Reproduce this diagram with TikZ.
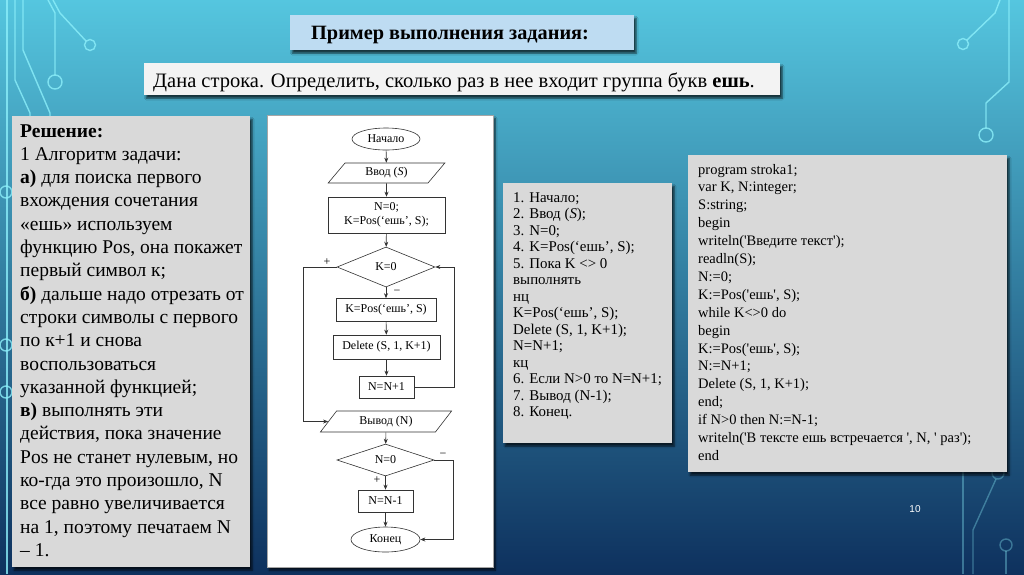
\documentclass[tikz,border=0pt]{standalone}
\usepackage{fontspec}
\setmainfont{Liberation Serif}
\newfontfamily\numfont{Liberation Sans}
\usetikzlibrary{shapes.geometric,arrows.meta,shadows.blur}
\definecolor{bgtop}{HTML}{55C6DF}
\definecolor{bgmid}{HTML}{2A8CBC}
\definecolor{bgbot}{HTML}{0E315E}
\definecolor{circ}{HTML}{8CEFFA}
\definecolor{titlefill}{HTML}{BEDCF2}
\definecolor{taskfill}{HTML}{F3F3F3}
\definecolor{panel}{HTML}{D9D9D9}
\definecolor{fcline}{HTML}{333333}
\newcommand\qq{\textquotesingle}
\tikzset{
  circuit/.style={draw=circ, line width=1.4pt, opacity=0.8},
  circuitlow/.style={draw=circ, line width=1.4pt, opacity=0.35},
  panelbox/.style={fill=panel, draw=none, blur shadow={shadow xshift=2pt, shadow yshift=-3pt, shadow opacity=70, shadow blur steps=6}},
  fcbase/.style={draw=fcline, line width=0.6pt, inner sep=1pt, font=\fontsize{12}{13.5}\selectfont, align=center},
  term/.style={fcbase, ellipse},
  io/.style={fcbase, trapezium, trapezium left angle=55, trapezium right angle=125, trapezium stretches=true},
  proc/.style={fcbase, rectangle},
  cond/.style={fcbase, diamond, inner sep=0pt},
  arr/.style={draw=fcline, line width=0.6pt, -{Stealth[length=5pt,width=4pt]}},
  lab/.style={font=\fontsize{12}{13}\selectfont, inner sep=0pt},
  soltext/.style={anchor=base west, inner sep=0pt, font=\fontsize{19.5}{23}\selectfont},
  algtext/.style={anchor=base west, inner sep=0pt, font=\fontsize{14.9}{16}\selectfont},
  codetext/.style={anchor=base west, inner sep=0pt, font=\fontsize{14.5}{16}\selectfont}
}
\begin{document}
\begin{tikzpicture}[x=1pt,y=-1pt]
\useasboundingbox (0,0) rectangle (1024,574);
% background
\shade[top color=bgtop, middle color=bgmid, bottom color=bgbot] (0,0) rectangle (1024,574);
% circuit decoration, left
\draw[circuit] (7,0) -- (7,574);
\draw[circuit] (15,0) -- (15,80) -- (30,113) -- (30,130);
\draw[circuit] (23,0) -- (23,50) -- (50,113) -- (50,130);
\draw[circuit] (48,0) -- (55,13) -- (55,75);
\draw[circuit] (55,82) circle[radius=7];
\draw[circuit] (53,0) -- (60,13) -- (86,41);
\draw[circuit] (90,45) circle[radius=5.5];
\draw[circuit] (6,192) circle[radius=6];
\draw[circuit] (6,345) circle[radius=6];
\draw[circuit] (6,392) circle[radius=6];
% circuit decoration, right
\draw[circuit] (1000,0) -- (995,13) -- (967,40);
\draw[circuit] (963,44) circle[radius=5.5];
\draw[circuit] (1009,0) -- (1009,82) -- (986,103) -- (986,128);
\draw[circuit] (986,135) circle[radius=7];
\draw[circuitlow] (963,460) -- (963,574);
\draw[circuitlow] (998,473) circle[radius=6];
\draw[circuitlow] (996,479) -- (973,530) -- (973,574);
\draw[circuitlow] (1006,545) circle[radius=6];
\draw[circuitlow] (1006,551) -- (1006,574);

% title and task
\node[panelbox, fill=titlefill, minimum width=344, minimum height=35, anchor=north west, inner sep=0pt] (title) at (290,15) {};
\node[anchor=base west, inner sep=0pt, font=\fontsize{20.3}{24}\selectfont\bfseries] (titletext) at (311,39) {Пример выполнения задания:};
\node[panelbox, fill=taskfill, minimum width=636, minimum height=32, anchor=north west, inner sep=0pt] (task) at (144,63) {};
\node[anchor=base west, inner sep=0pt, font=\fontsize{20.5}{24}\selectfont] (tasktext) at (153,87) {Дана строка. Определить, сколько раз в нее входит группа букв \textbf{ешь}.};

% solution box
\node[panelbox, minimum width=238, minimum height=451, anchor=north west, inner sep=0pt] (sol) at (12,116) {};
\foreach \t [count=\i] in {
  {\textbf{Решение:}},
  {1 Алгоритм задачи:},
  {\textbf{а)} для поиска первого},
  {вхождения сочетания},
  {«ешь» используем},
  {функцию Pos, она покажет},
  {первый символ к;},
  {\textbf{б)} дальше надо отрезать от},
  {строки символы с первого},
  {по к+1 и снова},
  {воспользоваться},
  {указанной функцией;},
  {\textbf{в)} выполнять эти},
  {действия, пока значение},
  {Pos не станет нулевым, но},
  {ко-гда это произошло, N},
  {все равно увеличивается},
  {на 1, поэтому печатаем N},
  {– 1.}}
  \node[soltext] (s\i) at (20,{137+(\i-1)*23.3}) {\t};

% flowchart panel
\node[fill=white, draw=black!35, line width=0.5pt, minimum width=226, minimum height=452, anchor=north west, inner sep=0pt,
  blur shadow={shadow xshift=2pt, shadow yshift=-3pt, shadow opacity=70, shadow blur steps=6}] (fc) at (267,115) {};
\node[term, minimum width=68, minimum height=22] (start) at (386,139) {Начало};
\node[io, minimum width=117, minimum height=20] (in) at (386.5,173) {Ввод (\textit{S})};
\node[proc, minimum width=117, minimum height=36] (init) at (386.5,215) {N=0;\\K=Pos(‘ешь’, S);};
\node[cond, minimum width=98, minimum height=40] (d1) at (386,267) {K=0};
\node[proc, minimum width=100, minimum height=23] (kpos) at (386,310) {K=Pos(‘ешь’, S)};
\node[proc, minimum width=107, minimum height=24] (del) at (386.5,347) {Delete (S, 1, K+1)};
\node[proc, minimum width=55, minimum height=22] (inc) at (386.5,387) {N=N+1};
\node[io, minimum width=132, minimum height=21] (out) at (386,421.5) {Вывод (N)};
\node[cond, minimum width=97, minimum height=32] (d2) at (385.5,460) {N=0};
\node[proc, minimum width=55, minimum height=22] (dec) at (385.5,501) {N=N-1};
\node[term, minimum width=69, minimum height=25] (end) at (385.5,539.5) {Конец};
\coordinate (rloop) at (454,0);
\coordinate (lloop) at (303,0);
\coordinate (rexit) at (453,0);
\draw[arr] (start) -- (in);
\draw[arr] (in) -- (init);
\draw[arr] (init) -- (d1);
\draw[arr] (d1) -- (kpos);
\draw[arr] (kpos) -- (del);
\draw[arr] (del) -- (inc);
\draw[arr] (inc.east) -- (inc.east -| rloop) -- (d1.east -| rloop) -- (d1.east);
\draw[arr] (d1.west) -- (d1.west -| lloop) -- (out.west -| lloop) -- (out.west);
\draw[arr] (out) -- (d2);
\draw[arr] (d2) -- (dec);
\draw[arr] (dec) -- (end);
\draw[arr] (d2.east) -- (d2.east -| rexit) -- (end.east -| rexit) -- (end.east);
\node[lab] (plus1) at (327,262) {+};
\node[lab] (minus1) at (397,292) {−};
\node[lab] (minus2) at (443,455) {−};
\node[lab] (plus2) at (377,480) {+};

% algorithm box
\node[panelbox, minimum width=169, minimum height=260, anchor=north west, inner sep=0pt] (alg) at (503,183) {};
\foreach \t [count=\i] in {
  {1. Начало;},
  {2. Ввод (\textit{S});},
  {3. N=0;},
  {4. K=Pos(‘ешь’, S);},
  {5. Пока K <> 0},
  {выполнять},
  {нц},
  {K=Pos(‘ешь’, S);},
  {Delete (S, 1, K+1);},
  {N=N+1;},
  {кц},
  {6. Если N>0 то N=N+1;},
  {7. Вывод (N-1);},
  {8. Конец.}}
  \node[algtext] (a\i) at (513,{202+(\i-1)*16.5}) {\t};

% code box
\node[panelbox, minimum width=319, minimum height=317, anchor=north west, inner sep=0pt] (code) at (688,155) {};
\foreach \t [count=\i] in {
  {program stroka1;},
  {var K, N:integer;},
  {S:string;},
  {begin},
  {writeln(\qq Введите текст\qq);},
  {readln(S);},
  {N:=0;},
  {K:=Pos(\qq ешь\qq, S);},
  {while K<>0 do},
  {begin},
  {K:=Pos(\qq ешь\qq, S);},
  {N:=N+1;},
  {Delete (S, 1, K+1);},
  {end;},
  {if N>0 then N:=N-1;},
  {writeln(\qq В тексте ешь встречается \qq, N, \qq\ раз\qq);},
  {end}}
  \node[codetext] (c\i) at (698,{174+(\i-1)*17.9}) {\t};

% page number
\node[text=white, font=\numfont\fontsize{10}{12}\selectfont, inner sep=0pt] (pg) at (915,509) {10};
\end{tikzpicture}
\end{document}
